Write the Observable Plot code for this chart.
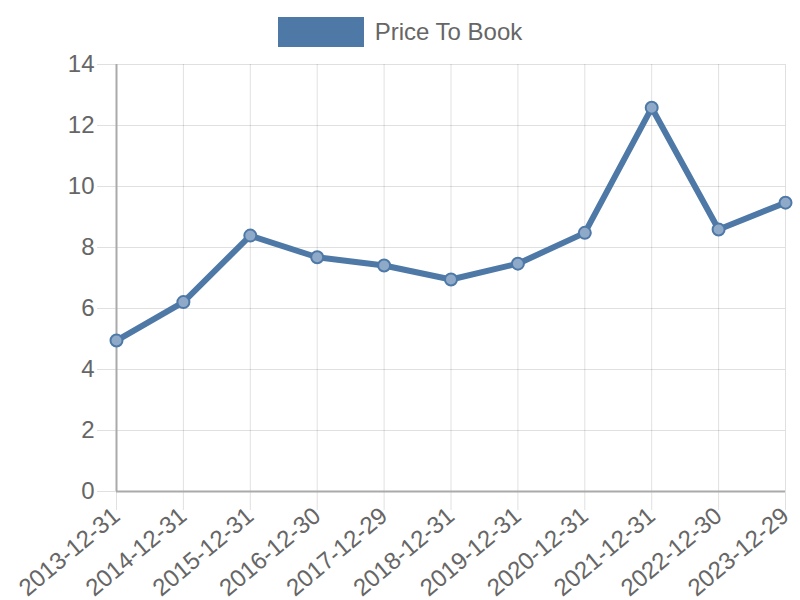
<!DOCTYPE html>
<html>
<head>
<meta charset="utf-8">
<script src="https://cdn.jsdelivr.net/npm/d3@7"></script>
<script src="https://cdn.jsdelivr.net/npm/@observablehq/plot@0.6"></script>
<style>
  html, body { margin: 0; padding: 0; background: #fff; }
  #legend { height: 50px; display: flex; align-items: flex-start; justify-content: center; font-family: "Liberation Sans", Arial, sans-serif; font-size: 24px; color: #666; }
  #legend .box { width: 86px; height: 30px; background: #4e79a7; margin-top: 17px; margin-right: 11px; }
  #legend .lbl { margin-top: 19px; line-height: 26px; }
  svg { display: block; }
</style>
</head>
<body>
<div id="legend"><div class="box"></div><div class="lbl">Price To Book</div></div>
<div id="chart"></div>
<script>
const dates = ["2013-12-31","2014-12-31","2015-12-31","2016-12-30","2017-12-29","2018-12-31","2019-12-31","2020-12-31","2021-12-31","2022-12-30","2023-12-29"];
const priceToBook = [4.95, 6.21, 8.39, 7.68, 7.41, 6.95, 7.47, 8.48, 12.58, 8.59, 9.47];
const yTicks = [0, 2, 4, 6, 8, 10, 12, 14];

const data = dates.map((d, i) => ({date: d, value: priceToBook[i]}));
const blue = "#4e79a7";

const chart = Plot.plot({
  width: 800,
  height: 550,
  marginTop: 14,
  marginBottom: 109,
  marginLeft: 116,
  marginRight: 15,
  style: {fontFamily: "'Liberation Sans', Arial, sans-serif", fontSize: "24px", color: "#666", background: "#fff"},
  x: {type: "point", domain: dates, padding: 0, round: false, label: null},
  y: {domain: [0, 14], label: null},
  marks: [
    Plot.gridX(dates, {stroke: "#000", strokeOpacity: 0.12}),
    Plot.gridY(yTicks, {stroke: "#000", strokeOpacity: 0.12}),
    Plot.axisY(yTicks, {tickSize: 19, tickPadding: 3, stroke: "#e0e0e0", strokeOpacity: 1, fill: "#666", fontSize: 24, label: null}),
    Plot.axisX(dates, {tickSize: 19, tickPadding: 2, tickRotate: -40, stroke: "#e0e0e0", strokeOpacity: 1, fill: "#666", fontSize: 24, label: null}),
    Plot.ruleX([dates[0]], {stroke: "#aaa", strokeWidth: 2}),
    Plot.ruleY([0], {stroke: "#aaa", strokeWidth: 2}),
    Plot.line(data, {x: "date", y: "value", stroke: blue, strokeWidth: 6, strokeLinejoin: "round"}),
    Plot.dot(data, {x: "date", y: "value", r: 6, fill: "#8fa9c9", stroke: blue, strokeWidth: 2})
  ]
});
document.getElementById("chart").appendChild(chart);
</script>
</body>
</html>
